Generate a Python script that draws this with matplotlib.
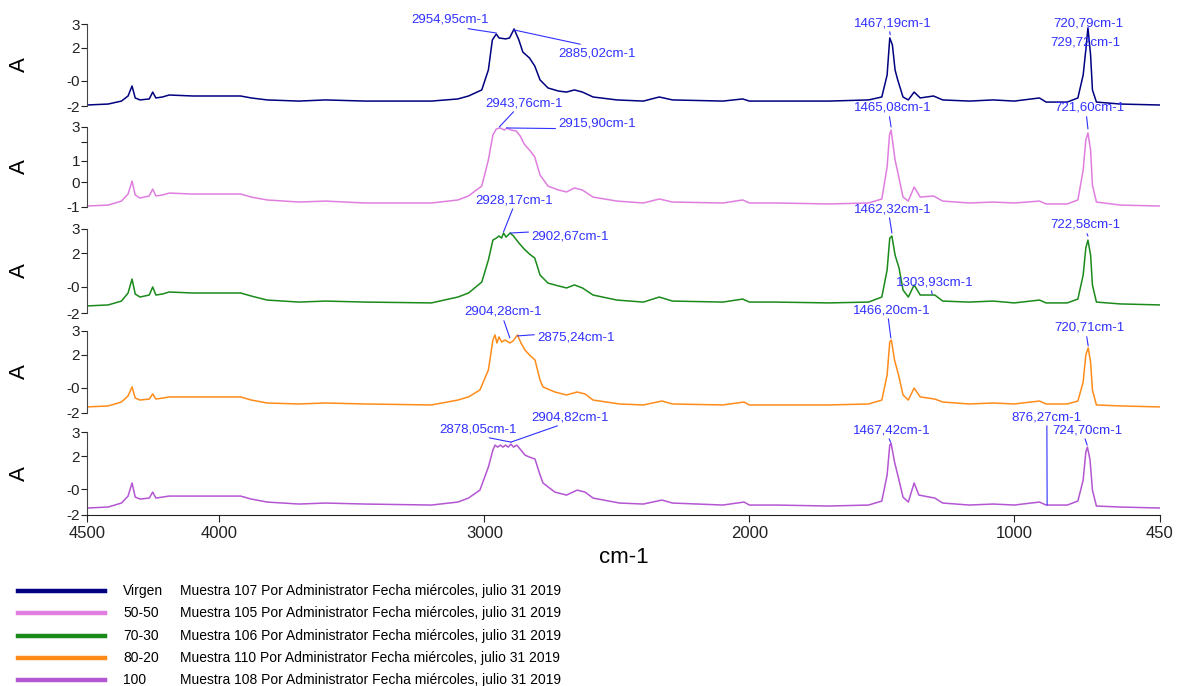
import matplotlib
matplotlib.use('Agg')
import matplotlib.pyplot as plt
from matplotlib.lines import Line2D

plt.rcParams['font.family'] = ['Liberation Sans', 'DejaVu Sans']

# Muestras (nombre, descripcion, color)
nombres = ['Virgen', '50-50', '70-30', '80-20', '100']
descripciones = [
    'Muestra 107 Por Administrator Fecha miércoles, julio 31 2019',
    'Muestra 105 Por Administrator Fecha miércoles, julio 31 2019',
    'Muestra 106 Por Administrator Fecha miércoles, julio 31 2019',
    'Muestra 110 Por Administrator Fecha miércoles, julio 31 2019',
    'Muestra 108 Por Administrator Fecha miércoles, julio 31 2019',
]
colores = ['#000080', '#e07ee0', '#1a8a1a', '#ff8c1a', '#b455d3']

# Espectros (numero de onda cm-1, absorbancia)
wn_virgen = [4500, 4420, 4370, 4345, 4330, 4318, 4300, 4265, 4252, 4240, 4215, 4190, 4100, 3920, 3880,
             3820, 3700, 3600, 3450, 3200, 3100, 3060, 3010, 2985, 2970, 2955, 2945, 2920, 2905, 2888,
             2870, 2855, 2830, 2810, 2790, 2760, 2720, 2690, 2660, 2630, 2590, 2500, 2400, 2340, 2290,
             2100, 2025, 2000, 1900, 1700, 1550, 1500, 1480, 1470, 1460, 1450, 1440, 1420, 1400, 1378,
             1355, 1305, 1270, 1170, 1080, 1000, 905, 880, 800, 760, 740, 730, 722, 712, 705, 690, 600, 450]
abs_virgen = [-1.94, -1.88, -1.70, -1.39, -0.78, -1.51, -1.63, -1.57, -1.15, -1.51, -1.45, -1.33, -1.39, -1.39, -1.51,
              -1.63, -1.70, -1.63, -1.70, -1.70, -1.57, -1.39, -1.02, 0.20, 2.03, 2.39, 2.15, 2.09, 2.15, 2.70,
              2.03, 1.29, 0.93, 0.44, -0.41, -0.90, -1.09, -1.15, -1.02, -1.15, -1.45, -1.63, -1.70, -1.45, -1.63,
              -1.70, -1.57, -1.70, -1.70, -1.70, -1.63, -1.45, -0.11, 2.15, 1.72, 0.20, -0.41, -1.45, -1.63, -1.15,
              -1.51, -1.39, -1.63, -1.70, -1.63, -1.70, -1.51, -1.76, -1.76, -1.51, -0.11, 1.42, 2.76, 1.11, -1.02, -1.76, -1.88, -1.94]

wn_5050 = [4500, 4420, 4370, 4345, 4330, 4318, 4300, 4265, 4252, 4240, 4215, 4190, 4100, 3920, 3880,
           3820, 3700, 3600, 3450, 3200, 3100, 3060, 3010, 2985, 2968, 2955, 2940, 2925, 2915, 2900,
           2880, 2865, 2850, 2830, 2810, 2790, 2760, 2720, 2690, 2660, 2630, 2590, 2500, 2400, 2340,
           2290, 2100, 2025, 2000, 1900, 1700, 1550, 1500, 1480, 1471, 1465, 1450, 1440, 1420, 1400,
           1378, 1355, 1305, 1270, 1170, 1080, 1000, 905, 880, 800, 760, 740, 730, 722, 712, 705, 690, 600, 450]
abs_5050 = [-1.94, -1.88, -1.63, -1.19, -0.38, -1.25, -1.44, -1.31, -0.88, -1.31, -1.25, -1.13, -1.19, -1.19, -1.38,
            -1.56, -1.69, -1.63, -1.75, -1.75, -1.56, -1.31, -0.69, 0.94, 2.50, 2.88, 2.94, 2.81, 2.94, 2.81,
            2.75, 2.44, 1.94, 1.56, 1.13, 0.00, -0.69, -0.94, -1.06, -0.81, -0.94, -1.38, -1.63, -1.75, -1.50,
            -1.69, -1.75, -1.56, -1.75, -1.75, -1.81, -1.75, -1.50, 0.50, 2.50, 2.81, 0.94, 0.19, -1.38, -1.63,
            -0.75, -1.38, -1.31, -1.63, -1.75, -1.69, -1.75, -1.63, -1.81, -1.81, -1.56, 0.31, 2.19, 2.63, 1.56, -0.63, -1.69, -1.88, -1.94]

wn_7030 = [4500, 4420, 4370, 4345, 4330, 4318, 4300, 4265, 4252, 4240, 4215, 4190, 4100, 3920, 3880,
           3820, 3700, 3600, 3450, 3200, 3100, 3060, 3010, 2985, 2968, 2955, 2945, 2935, 2928, 2918,
           2903, 2890, 2870, 2850, 2830, 2810, 2790, 2760, 2720, 2690, 2660, 2630, 2590, 2500, 2400,
           2340, 2290, 2100, 2025, 2000, 1900, 1700, 1550, 1500, 1480, 1470, 1462, 1450, 1435, 1420,
           1400, 1378, 1355, 1300, 1270, 1170, 1080, 1000, 905, 880, 800, 760, 740, 730, 722, 712, 705, 690, 600, 450]
abs_7030 = [-1.58, -1.52, -1.29, -0.81, 0.02, -0.87, -1.05, -0.93, -0.45, -0.93, -0.87, -0.75, -0.81, -0.81, -0.99,
            -1.23, -1.35, -1.29, -1.35, -1.40, -1.05, -0.81, -0.16, 1.15, 2.34, 2.46, 2.58, 2.46, 2.76, 2.52,
            2.76, 2.58, 2.17, 1.81, 1.51, 1.27, 0.26, -0.22, -0.39, -0.51, -0.33, -0.51, -0.93, -1.23, -1.35,
            -1.05, -1.29, -1.35, -1.17, -1.35, -1.35, -1.40, -1.35, -1.05, 0.56, 2.46, 2.58, 1.45, 0.68, -0.63,
            -1.05, -0.33, -0.93, -0.93, -1.29, -1.35, -1.29, -1.40, -1.23, -1.40, -1.40, -1.17, 0.26, 1.87, 2.34, 1.45, -0.33, -1.35, -1.46, -1.52]

wn_8020 = [4500, 4420, 4370, 4345, 4330, 4318, 4300, 4265, 4252, 4240, 4215, 4190, 4100, 3920, 3880,
           3820, 3700, 3600, 3450, 3200, 3100, 3060, 3017, 2985, 2968, 2960, 2953, 2945, 2935, 2922,
           2904, 2892, 2875, 2862, 2847, 2830, 2809, 2790, 2779, 2734, 2690, 2650, 2620, 2590, 2490,
           2400, 2330, 2290, 2100, 2020, 2000, 1900, 1700, 1550, 1500, 1480, 1470, 1464, 1452, 1435,
           1420, 1400, 1378, 1355, 1300, 1270, 1170, 1080, 1000, 905, 880, 800, 760, 740, 730, 721, 712, 705, 690, 600, 450]
abs_8020 = [-1.63, -1.57, -1.33, -0.96, -0.41, -1.09, -1.21, -1.15, -0.84, -1.15, -1.09, -1.02, -1.02, -1.02, -1.21,
            -1.39, -1.45, -1.39, -1.45, -1.51, -1.21, -1.02, -0.60, 0.62, 2.45, 2.76, 2.27, 2.64, 2.33, 2.45,
            2.27, 2.39, 2.76, 2.27, 1.84, 1.54, 1.23, 0.01, -0.41, -0.72, -0.90, -0.72, -0.84, -1.21, -1.45,
            -1.51, -1.27, -1.45, -1.51, -1.33, -1.51, -1.51, -1.51, -1.45, -1.21, 0.32, 2.33, 2.45, 1.23, 0.20,
            -0.90, -1.21, -0.48, -1.02, -1.15, -1.33, -1.45, -1.39, -1.45, -1.27, -1.45, -1.45, -1.27, -0.11, 1.54, 1.97, 1.11, -0.60, -1.51, -1.57, -1.63]

wn_100 = [4500, 4420, 4370, 4345, 4330, 4318, 4300, 4265, 4252, 4240, 4215, 4190, 4100, 3920, 3880,
          3820, 3700, 3600, 3450, 3200, 3100, 3060, 3017, 2985, 2968, 2960, 2950, 2940, 2930, 2920,
          2910, 2900, 2890, 2878, 2862, 2847, 2830, 2809, 2790, 2779, 2734, 2690, 2650, 2620, 2590,
          2490, 2400, 2330, 2290, 2100, 2020, 2000, 1900, 1700, 1550, 1500, 1480, 1470, 1465, 1452,
          1438, 1420, 1400, 1378, 1360, 1300, 1270, 1170, 1080, 1000, 905, 880, 800, 760, 740, 730, 724, 714, 705, 690, 600, 450]
abs_100 = [-1.58, -1.52, -1.28, -0.86, -0.07, -0.92, -1.04, -0.98, -0.62, -0.98, -0.92, -0.86, -0.86, -0.86, -1.04,
           -1.22, -1.34, -1.28, -1.34, -1.40, -1.22, -0.98, -0.50, 0.89, 1.91, 2.21, 2.09, 2.21, 2.09, 2.21,
           2.09, 2.27, 2.09, 2.21, 1.91, 1.61, 1.49, 1.37, 0.41, -0.07, -0.62, -0.80, -0.50, -0.62, -0.98,
           -1.28, -1.34, -1.10, -1.28, -1.40, -1.22, -1.40, -1.40, -1.46, -1.40, -1.16, 0.41, 2.21, 2.33, 1.19,
           0.29, -0.92, -1.22, -0.07, -0.80, -0.98, -1.28, -1.40, -1.34, -1.40, -1.22, -1.40, -1.40, -1.16, 0.11, 1.79, 2.09, 1.31, -0.50, -1.46, -1.52, -1.58]

numeros_onda = [wn_virgen, wn_5050, wn_7030, wn_8020, wn_100]
absorbancias = [abs_virgen, abs_5050, abs_7030, abs_8020, abs_100]

# Marcas del eje y (posicion, etiqueta) de cada panel
yticks_normal = [3, 1.55, -0.45, -2]
ylabels_normal = ['3', '2', '-0', '-2']
yticks_5050 = [3, 2.06, 0.875, -0.44, -2]
ylabels_5050 = ['3', '', '1', '0', '-1']

# Picos anotados: (texto, pico_cm, pico_abs, texto_cm, texto_abs, relx, rely)
picos = [
    [('2954,95cm-1', 2955, 2.45, 3130, 3.25, 0.5, 0.0),
     ('2885,02cm-1', 2889, 2.64, 2575, 1.23, 0.45, 1.0),
     ('1467,19cm-1', 1468, 2.35, 1458, 3.06, 0.45, 0.0),
     ('720,79cm-1', 721, 2.76, 719, 3.06, 0.5, 0.0),
     ('729,72cm-1', 729, 1.42, 730, 1.90, 0.5, 0.0)],
    [('2943,76cm-1', 2944, 3.0, 2851, 4.5, 0.4, 0.0),
     ('2915,90cm-1', 2916, 2.94, 2575, 3.25, 0.45, 0.0),
     ('1465,08cm-1', 1465, 3.0, 1458, 4.19, 0.45, 0.0),
     ('721,60cm-1', 722, 2.88, 715, 4.19, 0.45, 0.0)],
    [('2928,17cm-1', 2928, 2.82, 2889, 4.72, 0.5, 0.0),
     ('2902,67cm-1', 2903, 2.76, 2677, 2.58, 0.47, 1.0),
     ('1462,32cm-1', 1462, 2.76, 1458, 4.19, 0.45, 0.0),
     ('1303,93cm-1', 1310, -0.87, 1300, -0.16, 0.45, 0.0),
     ('722,58cm-1', 722, 2.58, 730, 3.24, 0.5, 0.0)],
    [('2904,28cm-1', 2904, 2.58, 2930, 4.16, 0.5, 0.0),
     ('2875,24cm-1', 2875, 2.70, 2655, 2.58, 0.48, 1.0),
     ('1466,20cm-1', 1466, 2.58, 1462, 4.28, 0.45, 0.0),
     ('720,71cm-1', 721, 2.09, 715, 3.19, 0.45, 0.0)],
    [('2878,05cm-1', 2900, 2.39, 3025, 3.18, 0.47, 0.0),
     ('2904,82cm-1', 2900, 2.39, 2677, 3.90, 0.44, 0.0),
     ('1467,42cm-1', 1467, 2.39, 1462, 3.12, 0.45, 0.0),
     ('876,27cm-1', 876, -1.40, 877, 3.90, 0.5, 0.0),
     ('724,70cm-1', 725, 2.21, 723, 3.12, 0.45, 0.0)],
]

xticks = [4500, 4000, 3000, 2000, 1000, 450]

W, H = 1178, 686
fig = plt.figure(figsize=(W / 100, H / 100), dpi=100)

# Limites verticales (px) de cada panel
paneles_px = [(24, 106), (127, 207), (229, 313), (331, 413), (432, 515)]
x0, x1 = 87, 1160
azul = '#3030ff'

for i in range(5):
    top, bot = paneles_px[i]
    ax = fig.add_axes([x0 / W, 1 - bot / H, (x1 - x0) / W, (bot - top) / H])
    ax.plot(numeros_onda[i], absorbancias[i], color=colores[i], lw=1.1)
    ax.set_xlim(4500, 450)
    ax.set_ylim(-2, 3)
    for s in ['top', 'right']:
        ax.spines[s].set_visible(False)
    ax.spines['left'].set_color('#444444')
    ax.spines['bottom'].set_color('#222222')
    if i == 1:
        ax.set_yticks(yticks_5050)
        ax.set_yticklabels(ylabels_5050)
    else:
        ax.set_yticks(yticks_normal)
        ax.set_yticklabels(ylabels_normal)
    ax.tick_params(axis='y', direction='out', length=4, width=0.8, pad=1,
                   labelsize=11, colors='#222222')
    if i < 4:
        ax.spines['bottom'].set_visible(False)
        ax.set_xticks([])
    else:
        ax.set_xticks(xticks)
        ax.set_xticklabels([str(t) for t in xticks])
        ax.tick_params(axis='x', direction='out', length=5, width=0.8, pad=3,
                       labelsize=12, colors='#222222')
        ax.set_xlabel('cm-1', fontsize=16, labelpad=4)
    fig.text(19 / W, 1 - (top + bot) / 2 / H, 'A', rotation=90, fontsize=16,
             ha='center', va='center')

    for txt, px, py, tx, ty, rx, ry in picos[i]:
        ax.annotate(txt, xy=(px, py), xytext=(tx, ty), color=azul, fontsize=9.5,
                    ha='center', va='center', annotation_clip=False,
                    arrowprops=dict(arrowstyle='-', color=azul, lw=0.8,
                                    shrinkA=0, shrinkB=0, relpos=(rx, ry)))

# Leyenda
filas_y = [591, 613, 636, 658, 680]
for i in range(5):
    y = 1 - filas_y[i] / H
    fig.add_artist(Line2D([18 / W, 105 / W], [y, y], color=colores[i], lw=3.2))
    fig.text(123 / W, y, nombres[i], fontsize=10, va='center', ha='left')
    fig.text(180 / W, y, descripciones[i], fontsize=10, va='center', ha='left')

fig.savefig('out.png', dpi=100)
